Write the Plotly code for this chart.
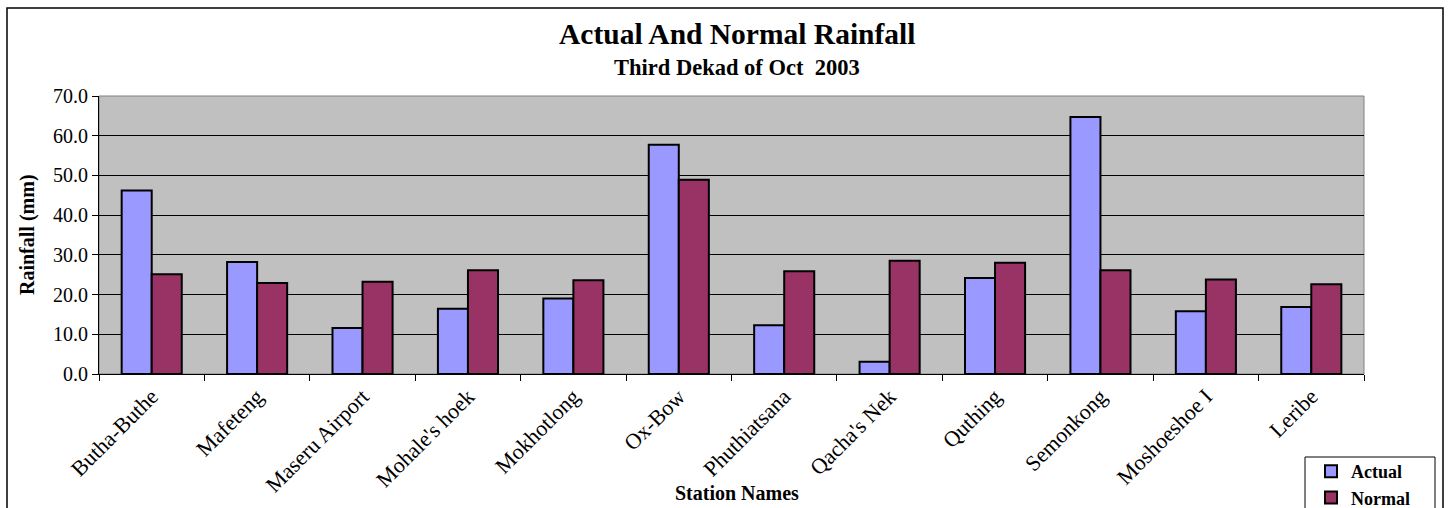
import plotly.graph_objects as go

stations = ["Butha-Buthe", "Mafeteng", "Maseru Airport", "Mohale's hoek", "Mokhotlong",
            "Ox-Bow", "Phuthiatsana", "Qacha's Nek", "Quthing", "Semonkong",
            "Moshoeshoe I", "Leribe"]
actual = [46.2, 28.2, 11.6, 16.4, 19.0, 57.7, 12.3, 3.1, 24.2, 64.7, 15.8, 16.9]
normal = [25.1, 22.9, 23.2, 26.1, 23.6, 48.9, 25.9, 28.5, 28.0, 26.1, 23.8, 22.6]
y_ticks = [0, 10, 20, 30, 40, 50, 60, 70]

FONT = "Liberation Serif, Times New Roman, serif"
W, H = 1451, 508
L, R, T, B = 99, 1364, 96, 374

fig = go.Figure()
fig.add_trace(go.Bar(x=stations, y=actual, name="Actual",
                     marker=dict(color="#9999FF", line=dict(color="black", width=2))))
fig.add_trace(go.Bar(x=stations, y=normal, name="Normal",
                     marker=dict(color="#993366", line=dict(color="black", width=2))))

def px(x):
    return (x - L) / (R - L)

def py(y):
    return (B - y) / (B - T)

fig.update_layout(
    width=W, height=H,
    margin=dict(l=L, r=W - R, t=T, b=H - B, autoexpand=False),
    paper_bgcolor="white", plot_bgcolor="#C0C0C0",
    barmode="group", bargap=0.43, bargroupgap=0,
    font=dict(family=FONT, color="black", size=16),
    showlegend=True,
    legend=dict(x=px(1311), y=py(453), xanchor="left", yanchor="top",
                bgcolor="rgba(0,0,0,0)", borderwidth=0,
                font=dict(family=FONT, size=18, color="black", weight="bold"),
                itemwidth=30, tracegroupgap=0),
    xaxis=dict(showgrid=False, showline=True, linecolor="black", linewidth=1,
               ticks="outside", tickson="boundaries", ticklen=6, tickcolor="black",
               tickangle=-45, tickfont=dict(family=FONT, size=22, color="black")),
    yaxis=dict(range=[0, 70], tickvals=y_ticks, ticktext=[f"{v:.1f}" for v in y_ticks],
               showgrid=True, gridcolor="black", gridwidth=1,
               showline=True, linecolor="black", linewidth=1,
               ticks="outside", ticklen=6, tickcolor="black",
               tickfont=dict(family=FONT, size=20, color="black"), zeroline=False),
    shapes=[
        dict(type="rect", xref="paper", yref="paper", x0=0, x1=1, y0=0, y1=1,
             line=dict(color="#808080", width=1), layer="below"),
        dict(type="rect", xref="paper", yref="paper", x0=px(7), x1=px(1443),
             y0=py(8), y1=py(560), line=dict(color="black", width=1.5)),
        dict(type="rect", xref="paper", yref="paper", x0=px(1305), x1=px(1435),
             y0=py(457), y1=py(540), line=dict(color="black", width=1),
             fillcolor="white", layer="below"),
    ],
    annotations=[
        dict(text="<b>Actual And Normal Rainfall</b>", xref="paper", yref="paper",
             x=px(737), y=py(34), xanchor="center", yanchor="middle", showarrow=False,
             font=dict(family=FONT, size=29.5, color="black")),
        dict(text="<b>Third Dekad of Oct&nbsp; 2003</b>", xref="paper", yref="paper",
             x=px(737), y=py(68), xanchor="center", yanchor="middle", showarrow=False,
             font=dict(family=FONT, size=22.5, color="black")),
        dict(text="<b>Station Names</b>", xref="paper", yref="paper",
             x=px(737), y=py(493), xanchor="center", yanchor="middle", showarrow=False,
             font=dict(family=FONT, size=20, color="black")),
        dict(text="<b>Rainfall (mm)</b>", xref="paper", yref="paper", textangle=-90,
             x=px(27), y=py(235), xanchor="center", yanchor="middle", showarrow=False,
             font=dict(family=FONT, size=20, color="black")),
    ],
)

fig.write_html("out.html", config={"displayModeBar": False},
               post_script="document.body.style.margin='0';")
